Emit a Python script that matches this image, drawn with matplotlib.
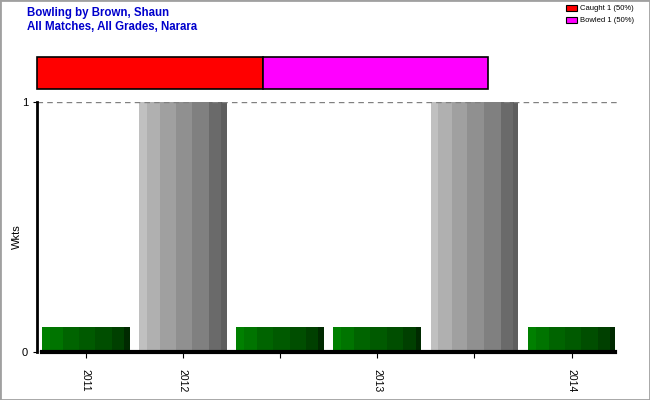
import matplotlib.pyplot as plt
import numpy as np
from matplotlib.patches import Rectangle

plt.rcParams['font.family'] = ['Liberation Sans', 'DejaVu Sans']

# data
slots = np.arange(6)
wkts = [0.1, 1, 0.1, 0.1, 1, 0.1]
is_wkt = [False, True, False, False, True, False]
tick_labels = ['2011', '2012', '', '2013', '', '2014']
dismissals = ['Caught', 'Bowled']
dis_counts = [1, 1]
dis_colors = ['#ff0000', '#ff00ff']

green_shades = ['#008000', '#007400', '#006400', '#005a00', '#004e00', '#004000', '#002a00']
gray_shades = ['#c0c0c0', '#b0b0b0', '#a0a0a0', '#909090', '#808080', '#6a6a6a', '#5e5e5e']
stripe_w = [0.09, 0.15, 0.18, 0.19, 0.19, 0.14, 0.06]

fig = plt.figure(figsize=(6.5, 4), dpi=100)
fig.patches.append(Rectangle((0, 0), 1, 1, transform=fig.transFigure, fill=False,
                             edgecolor='#a0a0a0', linewidth=2))

ax = fig.add_axes([0.057, 0.12, 0.897, 0.625])
bar_w = 0.9
for x, h, w in zip(slots, wkts, is_wkt):
    shades = gray_shades if w else green_shades
    left = x - bar_w / 2
    for sw, c in zip(stripe_w, shades):
        ax.bar(left, h, width=sw * bar_w + 0.002, align='edge', color=c, linewidth=0)
        left += sw * bar_w

ax.axhline(1, color='#808080', linestyle=(0, (4, 3)), linewidth=1)
ax.axhline(0, color='#808080', linestyle=(0, (2, 3)), linewidth=1, zorder=0)
ax.set_xlim(-0.5, 5.5)
ax.set_ylim(0, 1)
ax.set_yticks([0, 1])
ax.set_xticks(slots)
ax.set_xticklabels(tick_labels, rotation=-90, fontsize=7.5)
ax.tick_params(axis='y', labelsize=8, length=3)
ax.tick_params(axis='x', length=4, pad=8)
ax.set_ylabel('Wkts', fontsize=8)
ax.yaxis.set_label_coords(-0.026, 0.46)
for s in ['top', 'right']:
    ax.spines[s].set_visible(False)
ax.spines['left'].set_linewidth(2)
ax.spines['bottom'].set_linewidth(3)
ax.spines['bottom'].set_bounds(-0.45, 5.45)

# stacked dismissal bar
ax2 = fig.add_axes([0.057, 0.7775, 0.694, 0.08])
left = 0
total = sum(dis_counts)
for n, c in zip(dis_counts, dis_colors):
    ax2.barh(0, n / total, left=left, height=1, color=c, edgecolor='black',
             linewidth=1.2, clip_on=False)
    left += n / total
ax2.set_xlim(0, 1)
ax2.set_ylim(-0.5, 0.5)
ax2.axis('off')

fig.text(0.042, 0.968, 'Bowling by Brown, Shaun', color='#0000cc', fontsize=8.3,
         fontweight='bold', va='center')
fig.text(0.042, 0.933, 'All Matches, All Grades, Narara', color='#0000cc', fontsize=8.3,
         fontweight='bold', va='center')

for i, (d, n, c) in enumerate(zip(dismissals, dis_counts, dis_colors)):
    y = 0.98 - i * 0.03
    fig.patches.append(Rectangle((0.870, y - 0.008), 0.018, 0.016, transform=fig.transFigure,
                                 facecolor=c, edgecolor='black', linewidth=0.8))
    fig.text(0.893, y, f'{d} {n} ({n * 100 // total}%)', fontsize=5.5, va='center')

fig.savefig('out.png', dpi=100)
